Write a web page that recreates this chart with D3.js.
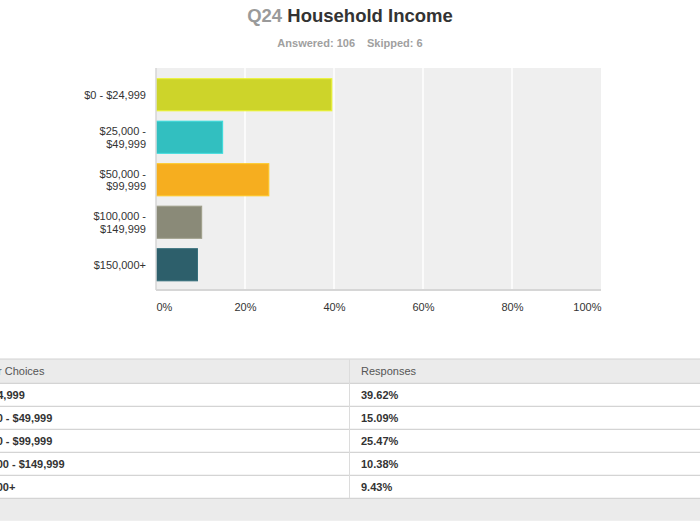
<!DOCTYPE html>
<html><head><meta charset="utf-8">
<script src="https://cdn.jsdelivr.net/npm/d3@7"></script>
<style>
body{margin:0;background:#fff;}
svg{display:block;font-family:"Helvetica Neue",Helvetica,Arial,"Liberation Sans",sans-serif;}
</style></head><body>
<svg id="c" width="700" height="525"></svg>
<script>
const categories = ["$0 - $24,999", "$25,000 - $49,999", "$50,000 - $99,999", "$100,000 - $149,999", "$150,000+"];
const axisLabels = [["$0 - $24,999"], ["$25,000 -", "$49,999"], ["$50,000 -", "$99,999"], ["$100,000 -", "$149,999"], ["$150,000+"]];
const values = [39.62, 15.09, 25.47, 10.38, 9.43];
const colors = ["#cdd42a", "#32bfc0", "#f6ae1f", "#8a8a78", "#2d5f6b"];
const xTicks = [0, 20, 40, 60, 80, 100];

const svg = d3.select("#c");

// Title
const t = svg.append("text").attr("x", 350).attr("y", 22).attr("text-anchor", "middle")
  .attr("font-size", 18.5).attr("font-weight", "bold");
t.append("tspan").attr("fill", "#9a9a9a").text("Q24 ");
t.append("tspan").attr("fill", "#333").text("Household Income");
const s = svg.append("text").attr("x", 350).attr("y", 47).attr("text-anchor", "middle")
  .attr("font-size", 11).attr("font-weight", "bold").attr("fill", "#a0a0a0");
s.append("tspan").text("Answered: 106");
s.append("tspan").attr("dx", 12).text("Skipped: 6");

// Chart
const x = d3.scaleLinear().domain([0, 100]).range([156, 601]);
const y = d3.scaleBand().domain(categories).range([73.5, 286]).paddingInner(0.22).paddingOuter(0.11);
const plotTop = 68, plotBottom = 290;

svg.append("rect").attr("x", x(0)).attr("y", plotTop).attr("width", x(100) - x(0)).attr("height", plotBottom - plotTop).attr("fill", "#efefef");
svg.append("g").selectAll("line").data(xTicks.slice(1, -1)).join("line")
  .attr("x1", d => x(d)).attr("x2", d => x(d)).attr("y1", plotTop).attr("y2", plotBottom)
  .attr("stroke", "#fff").attr("stroke-width", 1.5);

svg.append("g").selectAll("rect").data(values).join("rect")
  .attr("x", x(0) + 0.5).attr("y", (d, i) => y(categories[i]) + 0.5)
  .attr("width", d => x(d) - x(0) - 1).attr("height", y.bandwidth() - 1)
  .attr("fill", (d, i) => colors[i])
  .attr("stroke", (d, i) => d3.color(colors[i]).brighter(0.4)).attr("stroke-width", 1);

// axis lines
svg.append("line").attr("x1", x(0)).attr("x2", x(100)).attr("y1", plotBottom).attr("y2", plotBottom).attr("stroke", "#d6d6d6").attr("stroke-width", 2);
svg.append("line").attr("x1", x(0)).attr("x2", x(0)).attr("y1", plotTop).attr("y2", plotBottom).attr("stroke", "#d6d6d6").attr("stroke-width", 1.5);

const xa = d3.axisBottom(x).tickValues(xTicks).tickFormat(d => d + "%").tickSize(0).tickPadding(0);
const gx = svg.append("g").attr("transform", `translate(0,${plotBottom + 13})`).call(xa);
gx.select(".domain").remove();
gx.selectAll("text").attr("font-size", 11).attr("fill", "#333").attr("font-family", null)
  .attr("text-anchor", (d, i) => i === 0 ? "start" : (i === xTicks.length - 1 ? "end" : "middle"))
  .attr("dy", "0.71em");

const ya = svg.append("g");
axisLabels.forEach((lines, i) => {
  const cy = y(categories[i]) + y.bandwidth() / 2;
  const tx = ya.append("text").attr("x", 146).attr("text-anchor", "end").attr("font-size", 11).attr("fill", "#333");
  lines.forEach((l, j) => {
    tx.append("tspan").attr("x", 146).attr("y", cy + (j - (lines.length - 1) / 2) * 12.5 + 4).text(l);
  });
});

// Table
const rowTop = 359, headH = 24.3, rowH = 23;
const tbl = svg.append("g");
tbl.append("rect").attr("x", 0).attr("y", rowTop).attr("width", 700).attr("height", headH).attr("fill", "#ebebeb");
const footY = rowTop + headH + rowH * values.length;
tbl.append("rect").attr("x", 0).attr("y", footY).attr("width", 700).attr("height", 22.5).attr("fill", "#ebebeb");
const lineYs = [rowTop, rowTop + headH].concat(values.map((v, i) => rowTop + headH + rowH * (i + 1)));
tbl.selectAll("line.h").data(lineYs).join("line").attr("class", "h")
  .attr("x1", 0).attr("x2", 700).attr("y1", d => d).attr("y2", d => d)
  .attr("stroke", "#d4d4d4").attr("stroke-width", 1.2);
tbl.append("line").attr("x1", 349.5).attr("x2", 349.5).attr("y1", rowTop).attr("y2", footY).attr("stroke", "#dcdcdc");
tbl.append("text").attr("x", -35).attr("y", rowTop + 16).attr("font-size", 11).attr("fill", "#555").text("Answer Choices");
tbl.append("text").attr("x", 361).attr("y", rowTop + 16).attr("font-size", 11).attr("fill", "#555").text("Responses");
categories.forEach((c, i) => {
  const ry = rowTop + headH + rowH * i + 15.5;
  tbl.append("text").attr("x", -37).attr("y", ry).attr("font-size", 11).attr("font-weight", "bold").attr("fill", "#333").text(c);
  tbl.append("text").attr("x", 361).attr("y", ry).attr("font-size", 11).attr("font-weight", "bold").attr("fill", "#333").text(values[i].toFixed(2) + "%");
});
</script>
</body></html>
